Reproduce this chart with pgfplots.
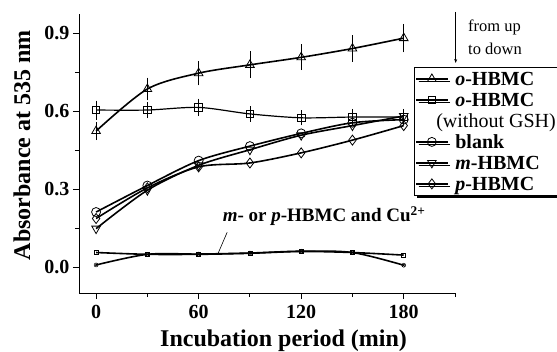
\documentclass[border=0pt]{standalone}
\usepackage{fontspec}
\setmainfont{Liberation Serif}
\usepackage{pgfplots}
\pgfplotsset{compat=1.18}
\usetikzlibrary{shadows,arrows.meta}

\pgfplotstableread{
x y e
0 0.524 0.023
30 0.686 0.032
60 0.747 0.035
90 0.779 0.040
120 0.808 0.038
150 0.842 0.040
180 0.882 0.043
}\oHBMC
\pgfplotstableread{
x y e
0 0.605 0.025
30 0.605 0.020
60 0.615 0.022
90 0.590 0.018
120 0.575 0.018
150 0.578 0.020
180 0.578 0.020
}\oHBMCnoGSH
\pgfplotstableread{
x y
0 0.212
30 0.314
60 0.410
90 0.466
120 0.515
150 0.556
180 0.568
}\blank
\pgfplotstableread{
x y
0 0.148
30 0.296
60 0.392
90 0.452
120 0.508
150 0.545
180 0.582
}\mHBMC
\pgfplotstableread{
x y
0 0.187
30 0.305
60 0.386
90 0.401
120 0.440
150 0.489
180 0.545
}\pHBMC
\pgfplotstableread{
x y
0 0.056
30 0.049
60 0.049
90 0.053
120 0.060
150 0.056
180 0.046
}\CuA
\pgfplotstableread{
x y
0 0.008
30 0.049
60 0.050
90 0.054
120 0.061
150 0.056
180 0.007
}\CuB

\begin{document}
\begin{tikzpicture}[x=1pt,y=1pt]
\useasboundingbox (0,0) rectangle (557,351);
\begin{axis}[
  at={(79pt,58pt)}, anchor=south west,
  scale only axis, width=376pt, height=279pt,
  xmin=-10, xmax=210, ymin=-0.1, ymax=0.975,
  axis lines*=left,
  axis line style={line width=0.9pt},
  xtick={0,60,120,180}, minor xtick={30,90,150,210},
  ytick={0,0.3,0.6,0.9}, minor ytick={0.15,0.45,0.75},
  tick align=outside, major tick length=6pt, minor tick length=4pt,
  tick style={line width=0.9pt, black},
  yticklabel style={/pgf/number format/fixed, /pgf/number format/fixed zerofill, /pgf/number format/precision=1},
  xticklabel style={yshift=-3pt},
  ticklabel style={font=\bfseries\fontsize{20}{22}\selectfont},
  /pgf/number format/assume math mode=true,
  xlabel={Incubation period (min)}, ylabel={Absorbance at 535 nm},
  label style={font=\bfseries\fontsize{24}{26}\selectfont},
  xlabel style={at={(axis description cs:0.544,-0.19)}, anchor=base},
  ylabel style={at={(axis description cs:-0.13,0.53)}, anchor=base},
  clip=false,
  legend style={at={(0.891,0.810)}, anchor=north west, draw=black, line width=0.8pt, fill=white,
    drop shadow={shadow xshift=2.5pt, shadow yshift=-2.5pt, fill=black, opacity=1},
    font=\fontsize{20}{21}\selectfont, row sep=0pt, inner sep=1pt, column sep=5pt,
    cells={anchor=west, text height=15.5pt, text depth=5.5pt, inner sep=1.5pt}},
  legend image code/.code={\draw[mark repeat=2,mark phase=2] plot coordinates {(0cm,0cm) (0.55cm,0cm) (1.1cm,0cm)};},
]
\addplot[black, smooth, line width=1.6pt, mark=triangle, mark size=5pt, mark options={fill=white, line width=0.8pt, solid},
  error bars/.cd, y dir=both, y explicit, error bar style={line width=0.6pt}, error mark options={line width=0.6pt, mark size=3pt}]
  table[x=x,y=y,y error=e] {\oHBMC};
\addlegendentry{\textbf{\textit{o}-HBMC}}
\addplot[black, smooth, line width=1.2pt, mark=square, mark size=3.8pt, mark options={fill=white, line width=0.8pt, solid},
  error bars/.cd, y dir=both, y explicit, error bar style={line width=0.6pt}, error mark options={line width=0.6pt, mark size=3pt}]
  table[x=x,y=y,y error=e] {\oHBMCnoGSH};
\addlegendentry{\textbf{\textit{o}-HBMC}}
\addlegendimage{empty legend}
\addlegendentry{\hspace*{-19pt}(without GSH)}
\addplot[black, smooth, line width=1.6pt, mark=o, mark size=4.5pt, mark options={fill=white, line width=0.8pt, solid}]
  table[x=x,y=y] {\blank};
\addlegendentry{\textbf{blank}}
\addplot[black, smooth, line width=1.6pt, mark=triangle, mark size=5pt, mark options={fill=white, line width=0.8pt, rotate=180, solid}]
  table[x=x,y=y] {\mHBMC};
\addlegendentry{\textbf{\textit{m}-HBMC}}
\addplot[black, smooth, line width=1.6pt, mark=diamond, mark size=5pt, mark options={fill=white, line width=0.8pt, solid}]
  table[x=x,y=y] {\pHBMC};
\addlegendentry{\textbf{\textit{p}-HBMC}}
\addplot[black, smooth, line width=1.6pt, mark=square, mark size=2pt, mark options={fill=white, line width=0.5pt}, forget plot]
  table[x=x,y=y] {\CuA};
\addplot[black, smooth, line width=1.6pt, mark=otimes, mark size=2pt, mark options={fill=white, line width=0.5pt}, forget plot]
  table[x=x,y=y] {\CuB};
\node[anchor=base west, inner sep=0pt, font=\bfseries\fontsize{19}{20}\selectfont] at (axis cs:74,0.174) {\textit{m}- or \textit{p}-HBMC and Cu\textsuperscript{2+}};
\draw[line width=0.6pt] (axis cs:76.7,0.134) -- (axis cs:71.4,0.053);
\end{axis}
\node[anchor=base west, inner sep=0pt, font=\fontsize{16.5}{17}\selectfont] at (468,319) {from up};
\node[anchor=base west, inner sep=0pt, font=\fontsize{16.5}{17}\selectfont] at (468,296) {to down};
\draw[line width=0.6pt, -{Stealth[length=4pt,width=3pt]}] (455.7,339) -- (455.7,288);
\end{tikzpicture}
\end{document}
